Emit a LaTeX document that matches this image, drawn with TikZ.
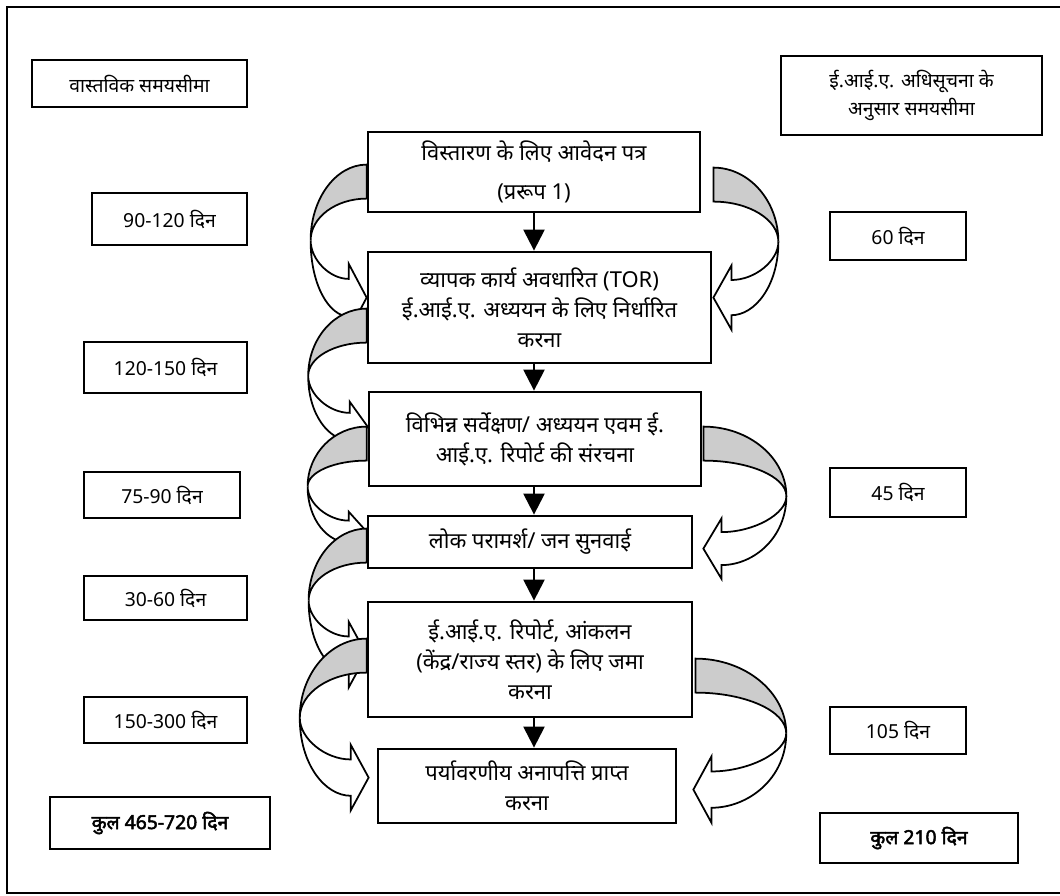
\documentclass[tikz,border=0pt]{standalone}
\usepackage{fontspec}
\setmainfont{Noto Sans}[Script=Devanagari]
\newfontfamily\heavyfont{Noto Sans}[Script=Devanagari, FakeBold=2.5]
\usetikzlibrary{calc}
\usetikzlibrary{arrows.meta}
\usetikzlibrary{backgrounds}
\tikzset{
  stage/.style={draw, line width=1.6pt, fill=white, align=center, inner sep=2pt,
    font=\fontsize{12.5}{17}\selectfont},
  span/.style={draw, line width=1.6pt, fill=white, align=center, inner sep=2pt,
    font=\fontsize{11}{16}\selectfont},
  total/.style={span, font=\fontsize{11}{15}\selectfont\heavyfont},
  flow/.style={line width=1.3pt, -{Triangle[length=0.42cm, width=0.42cm]}},
  bandback/.style={draw, line width=1pt, fill=black!20},
  bandfront/.style={draw, line width=1pt, fill=white},
}

% curled block arrow from one stage to the next:
% #1 start anchor, #2 its offset, #3 end anchor, #4 its offset,
% #5 reach, #6 half head, #7 side (-1 left, 1 right)
\newcommand{\curl}[7]{%
  \coordinate (cs) at ($(#1)+(#2)$);
  \coordinate (cb) at ($(cs)+(0,34)$);
  \coordinate (ct) at ($(#3)+(#4)$);
  \coordinate (cm) at ($(cs)!0.57!(ct)+(#7*#5,0)$);
  \coordinate (ub) at ($(ct)+(#7*18,-#6)$);
  \coordinate (lb) at ($(ct)+(#7*18,#6)$);
  \coordinate (us) at ($(ct)+(#7*18,-0.55*#6)$);
  \coordinate (ls) at ($(ct)+(#7*18,0.55*#6)$);
  \path[bandback] (cs) .. controls ($(cs)!0.55!(cs -| cm)$) and ($(cm)!0.55!(cm |- cs)$) .. (cm)
    .. controls ($(cm)!0.55!(cm |- cb)$) and ($(cb)!0.55!(cb -| cm)$) .. (cb) -- cycle;
  \path[bandfront] (cm) .. controls ($(cm)!0.6!(cm |- ls)$) and ($(ls)!0.5!(ls -| cm)$) .. (ls)
    -- (lb) -- (ct) -- (ub) -- (us)
    .. controls ($(us)!0.5!(us -| cm)$) and ($(cm)!0.5!(cm |- us)$) .. (cm) -- cycle;
}

\begin{document}
\begin{tikzpicture}[x=0.02cm, y=-0.02cm]
  \useasboundingbox (0,0) rectangle (1060,895);
  \draw[line width=1.5pt] (1060,7) -- (7,7) -- (7,893) -- (1060,893);

  % main stages
  \node[stage, minimum width=6.64cm, minimum height=1.6cm] (b1) at (534,172) {विस्तारण के लिए आवेदन पत्र\\[5pt](प्ररूप 1)};
  \node[stage, minimum width=6.86cm, minimum height=2.22cm] (b2) at (539.5,307.5) {व्यापक कार्य अवधारित (TOR)\\ई.आई.ए. अध्ययन के लिए निर्धारित\\करना};
  \node[stage, minimum width=6.64cm, minimum height=1.88cm] (b3) at (535,439) {विभिन्न सर्वेक्षण/ अध्ययन एवम ई.\\आई.ए. रिपोर्ट की संरचना};
  \node[stage, minimum width=6.48cm, minimum height=1.04cm] (b4) at (530,542) {लोक परामर्श/ जन सुनवाई};
  \node[stage, minimum width=6.48cm, minimum height=2.3cm] (b5) at (530,659.5) {ई.आई.ए. रिपोर्ट, आंकलन\\(केंद्र/राज्य स्तर) के लिए जमा\\करना};
  \node[stage, minimum width=5.96cm, minimum height=1.48cm] (b6) at (527,786) {पर्यावरणीय अनापत्ति प्राप्त\\करना};

  \draw[flow] (b1) -- (b1 |- b2.north);
  \draw[flow] (b2.south -| b1) -- (b3.north -| b1);
  \draw[flow] (b3.south -| b1) -- (b4.north -| b1);
  \draw[flow] (b4.south -| b1) -- (b5.north -| b1);
  \draw[flow] (b5.south -| b1) -- (b6.north -| b1);

  % actual time
  \node[span, minimum width=4.3cm, minimum height=0.94cm] (lhead) at (139.5,83.5) {वास्तविक समयसीमा};
  \node[span, minimum width=3.1cm, minimum height=1.04cm] (l1) at (169.5,219) {90-120 दिन};
  \node[span, minimum width=3.26cm, minimum height=1.02cm] (l2) at (165.5,367.5) {120-150 दिन};
  \node[span, minimum width=3.12cm, minimum height=0.92cm] (l3) at (162,495) {75-90 दिन};
  \node[span, minimum width=3.26cm, minimum height=0.88cm] (l4) at (165.5,598) {30-60 दिन};
  \node[span, minimum width=3.26cm, minimum height=0.92cm] (l5) at (165.5,720) {150-300 दिन};
  \node[total, minimum width=4.4cm, minimum height=1.04cm] (ltotal) at (160,823) {कुल 465-720 दिन};

  % time as notified
  \node[span, minimum width=5.22cm, minimum height=1.58cm] (rhead) at (911.5,95.5) {ई.आई.ए. अधिसूचना के\\अनुसार समयसीमा};
  \node[span, minimum width=2.72cm, minimum height=0.96cm] (r1) at (898,236) {60 दिन};
  \node[span, minimum width=2.72cm, minimum height=0.98cm] (r2) at (898,492.5) {45 दिन};
  \node[span, minimum width=2.72cm, minimum height=0.94cm] (r3) at (898,730.5) {105 दिन};
  \node[total, minimum width=3.96cm, minimum height=1cm] (rtotal) at (919,838) {कुल 210 दिन};

  \begin{scope}[on background layer]
    \curl{b1.north west}{0,34}{b2.north west}{0,47}{56}{34}{-1}
    \curl{b2.north west}{0,58}{b3.north west}{0,36}{59}{25}{-1}
    \curl{b3.north west}{-1,36}{b4.north west}{0,17}{59}{20}{-1}
    \curl{b4.north west}{0,14}{b5.north west}{0,54}{58}{33}{-1}
    \curl{b5.north west}{0,38}{b6.north west}{-8,30}{68}{33}{-1}
    \curl{b1.north east}{12,37}{b2.north east}{1,47}{65}{32}{1}
    \curl{b3.north east}{1,36}{b4.north east}{10,34}{83}{30}{1}
    \curl{b5.north east}{2,58}{b6.north east}{16,42}{92}{33}{1}
  \end{scope}
\end{tikzpicture}
\end{document}
